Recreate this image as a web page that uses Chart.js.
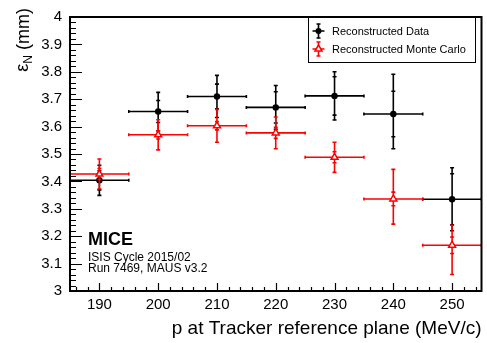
<!DOCTYPE html>
<html><head><meta charset="utf-8">
<script src="https://cdn.jsdelivr.net/npm/chart.js@4.4.1/dist/chart.umd.min.js"></script>
<style>html,body{margin:0;padding:0;background:#fff}canvas{display:block}</style>
</head><body>
<canvas id="c" width="487" height="343"></canvas>
<script>
// ---- data ----
const momenta = [190, 200, 210, 220, 230, 240, 250];           // MeV/c
const binHalfWidth = [5, 5, 5, 5, 5, 5, 5];
const dataEmittance = [3.404, 3.655, 3.710, 3.670, 3.712, 3.646, 3.335];
const dataStatErr   = [0.035, 0.040, 0.045, 0.057, 0.070, 0.083, 0.093];
const dataTotErrUp  = [0.055, 0.070, 0.077, 0.080, 0.088, 0.145, 0.115];
const dataTotErrDn  = [0.055, 0.070, 0.077, 0.080, 0.088, 0.127, 0.115];
const mcEmittance   = [3.427, 3.570, 3.603, 3.577, 3.488, 3.336, 3.167];
const mcStatErr     = [0.020, 0.015, 0.015, 0.020, 0.020, 0.025, 0.030];
const mcTotErrUp    = [0.055, 0.055, 0.060, 0.058, 0.055, 0.108, 0.073];
const mcTotErrDn    = [0.055, 0.055, 0.060, 0.058, 0.055, 0.092, 0.107];
const xTickValues = [190, 200, 210, 220, 230, 240, 250];
const yTickValues = [3, 3.1, 3.2, 3.3, 3.4, 3.5, 3.6, 3.7, 3.8, 3.9, 4];
const seriesNames = ['Reconstructed Data', 'Reconstructed Monte Carlo'];

const FONT = "'Liberation Sans', Arial, Helvetica, sans-serif";
const BLACK = '#000000', RED = '#ff0000';

const series = [
  {y: mcEmittance, st: mcStatErr, up: mcTotErrUp, dn: mcTotErrDn, color: RED},
  {y: dataEmittance, st: dataStatErr, up: dataTotErrUp, dn: dataTotErrDn, color: BLACK}
];

function drawBars(ctx, xs, ys, s) {
  ctx.strokeStyle = s.color;
  ctx.lineWidth = 1.6;
  for (let i = 0; i < momenta.length; i++) {
    const px = xs.getPixelForValue(momenta[i]);
    const py = ys.getPixelForValue(s.y[i]);
    const xl = xs.getPixelForValue(momenta[i] - binHalfWidth[i]);
    const xr = xs.getPixelForValue(momenta[i] + binHalfWidth[i]);
    const yt = ys.getPixelForValue(s.y[i] + s.up[i]);
    const yb = ys.getPixelForValue(s.y[i] - s.dn[i]);
    const st1 = ys.getPixelForValue(s.y[i] + s.st[i]);
    const st2 = ys.getPixelForValue(s.y[i] - s.st[i]);
    ctx.beginPath();
    ctx.moveTo(xl, py); ctx.lineTo(xr, py);
    ctx.moveTo(px, yt); ctx.lineTo(px, yb);
    // caps
    ctx.moveTo(px - 2, yt); ctx.lineTo(px + 2, yt);
    ctx.moveTo(px - 2, yb); ctx.lineTo(px + 2, yb);
    ctx.moveTo(px - 2, st1); ctx.lineTo(px + 2, st1);
    ctx.moveTo(px - 2, st2); ctx.lineTo(px + 2, st2);
    ctx.moveTo(xl, py - 1.5); ctx.lineTo(xl, py + 1.5);
    ctx.moveTo(xr, py - 1.5); ctx.lineTo(xr, py + 1.5);
    ctx.stroke();
  }
}

const rootStyle = {
  id: 'rootStyle',
  beforeDatasetDraw(chart, args) {
    const {ctx, chartArea: a, scales: {x, y}} = chart;
    ctx.save();
    ctx.beginPath(); ctx.rect(a.left, a.top, a.right - a.left, a.bottom - a.top); ctx.clip();
    drawBars(ctx, x, y, series[args.index]);
    ctx.restore();
  },
  afterDraw(chart) {
    const {ctx, chartArea: a, scales: {x, y}} = chart;
    ctx.save();
    // frame
    ctx.strokeStyle = '#000'; ctx.lineWidth = 2;
    ctx.strokeRect(a.left, a.top, a.right - a.left, a.bottom - a.top);
    // ticks (inward)
    ctx.lineWidth = 1.2;
    ctx.beginPath();
    for (let v = 186; v <= 254.001; v += 2) {
      const px = Math.round(x.getPixelForValue(v)) + 0.5;
      const len = (Math.round(v) % 10 === 0) ? 8 : 4;
      ctx.moveTo(px, a.bottom); ctx.lineTo(px, a.bottom - len);
    }
    for (let k = 0; k <= 50; k++) {
      const v = 3 + k * 0.02;
      const py = Math.round(y.getPixelForValue(v)) + 0.5;
      const len = (k % 5 === 0) ? 12 : 6;
      ctx.moveTo(a.left, py); ctx.lineTo(a.left + len, py);
    }
    ctx.stroke();

    // y title: epsilon_N (mm)
    ctx.save();
    ctx.translate(29, 8);
    ctx.rotate(-Math.PI / 2);
    ctx.fillStyle = '#000';
    ctx.textBaseline = 'alphabetic';
    const f1 = "18px " + FONT, f2 = "12px " + FONT;
    ctx.font = f1; const wMm = ctx.measureText(' (mm)').width; const wE = ctx.measureText('ε').width;
    ctx.font = f2; const wN = ctx.measureText('N').width;
    let cx = -(wMm + wN + wE);
    ctx.font = f1; ctx.fillText('ε', cx, -1); cx += wE;
    ctx.font = f2; ctx.fillText('N', cx, 3); cx += wN;
    ctx.font = f1; ctx.fillText(' (mm)', cx, 0);
    ctx.restore();

    // MICE label
    ctx.fillStyle = '#000';
    ctx.textAlign = 'left'; ctx.textBaseline = 'alphabetic';
    ctx.font = "bold 18px " + FONT;
    ctx.fillText('MICE', 88, 245);
    ctx.font = "12px " + FONT;
    ctx.fillText('ISIS Cycle 2015/02', 88, 261);
    ctx.fillText('Run 7469, MAUS v3.2', 88, 272);

    // legend
    ctx.fillStyle = '#fff';
    ctx.fillRect(308, 17, 167, 45);
    ctx.strokeStyle = '#000'; ctx.lineWidth = 1;
    ctx.strokeRect(308.5, 17.5, 167, 45);
    const rows = [{s: series[1], yy: 31, name: seriesNames[0]}, {s: series[0], yy: 49, name: seriesNames[1]}];
    rows.forEach((r, idx) => {
      const cxl = 318.5;
      ctx.strokeStyle = r.s.color; ctx.lineWidth = 1.6;
      ctx.beginPath();
      ctx.moveTo(cxl - 6, r.yy); ctx.lineTo(cxl + 6, r.yy);
      ctx.moveTo(cxl, r.yy - 7); ctx.lineTo(cxl, r.yy + 7);
      ctx.moveTo(cxl - 2, r.yy - 7); ctx.lineTo(cxl + 2, r.yy - 7);
      ctx.moveTo(cxl - 2, r.yy + 7); ctx.lineTo(cxl + 2, r.yy + 7);
      ctx.stroke();
      if (idx === 0) {
        ctx.fillStyle = '#000';
        ctx.beginPath(); ctx.arc(cxl, r.yy, 3, 0, Math.PI * 2); ctx.fill();
      } else {
        ctx.fillStyle = '#fff'; ctx.lineWidth = 1.5;
        ctx.beginPath();
        ctx.moveTo(cxl, r.yy - 4); ctx.lineTo(cxl + 3.5, r.yy + 2); ctx.lineTo(cxl - 3.5, r.yy + 2); ctx.closePath();
        ctx.fill(); ctx.stroke();
      }
      ctx.fillStyle = '#000';
      ctx.font = "11px " + FONT;
      ctx.textBaseline = 'middle';
      ctx.fillText(r.name, 332, r.yy + 0.5);
    });
    ctx.restore();
  }
};

new Chart(document.getElementById('c'), {
  type: 'scatter',
  data: {
    datasets: [
      {label: seriesNames[1], order: 0,
       data: momenta.map((m, i) => ({x: m, y: mcEmittance[i]})),
       pointStyle: 'triangle', pointRadius: 4, pointBackgroundColor: '#fff',
       pointBorderColor: RED, pointBorderWidth: 1.5, showLine: false},
      {label: seriesNames[0], order: 1,
       data: momenta.map((m, i) => ({x: m, y: dataEmittance[i]})),
       pointStyle: 'circle', pointRadius: 3.2, pointBackgroundColor: BLACK,
       pointBorderColor: BLACK, pointBorderWidth: 0, showLine: false}
    ]
  },
  options: {
    responsive: false, animation: false, devicePixelRatio: 1,
    layout: {padding: {left: 0, right: 5, top: 11, bottom: 0}},
    plugins: {legend: {display: false}, tooltip: {enabled: false}},
    scales: {
      x: {
        type: 'linear', min: 185, max: 255,
        afterBuildTicks: s => { s.ticks = xTickValues.map(v => ({value: v})); },
        afterFit: s => { s.height = 52; },
        grid: {display: false, drawTicks: false},
        border: {display: false},
        ticks: {color: '#000', font: {family: FONT, size: 15}, padding: 5, maxRotation: 0, autoSkip: false},
        title: {display: true, text: 'p at Tracker reference plane (MeV/c)', align: 'end',
                color: '#000', font: {family: FONT, size: 19}, padding: {top: 0, bottom: 3}}
      },
      y: {
        type: 'linear', min: 3, max: 4,
        afterBuildTicks: s => { s.ticks = yTickValues.map(v => ({value: v})); },
        afterFit: s => { s.width = 70; },
        grid: {display: false, drawTicks: false},
        border: {display: false},
        ticks: {color: '#000', font: {family: FONT, size: 15}, padding: 8,
                callback: v => String(Math.round(v * 10) / 10)}
      }
    }
  },
  plugins: [rootStyle]
});
</script>
</body></html>
